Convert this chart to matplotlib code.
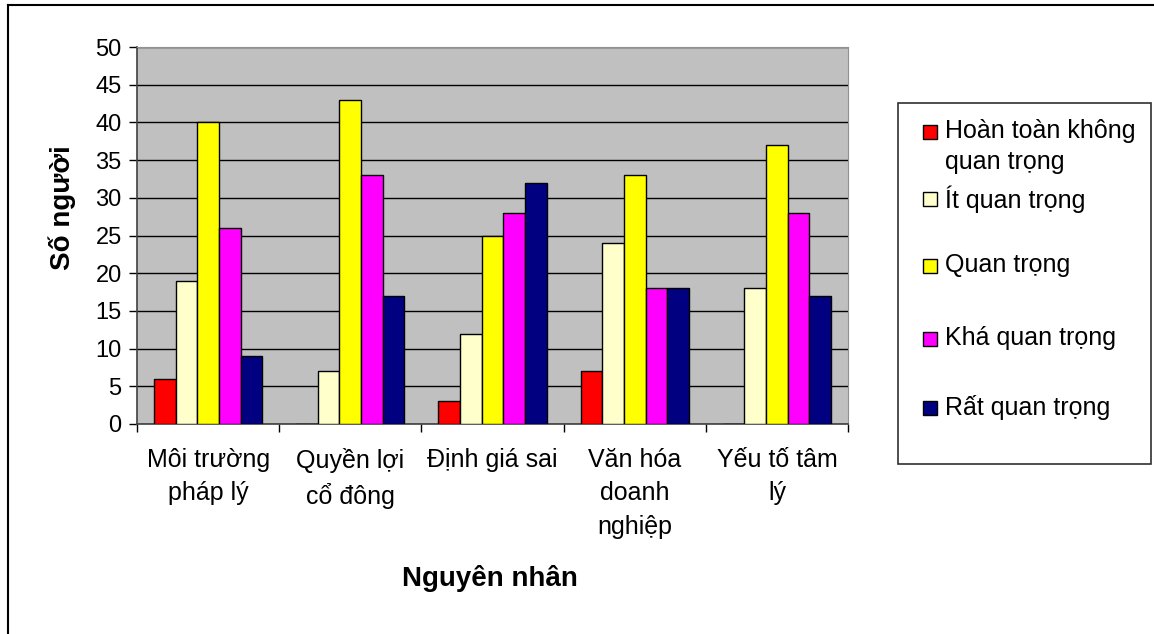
import matplotlib
matplotlib.use("Agg")
import matplotlib.pyplot as plt
from matplotlib.patches import Rectangle
from matplotlib.lines import Line2D
import numpy as np

plt.rcParams['font.family'] = ['Liberation Sans', 'DejaVu Sans']

categories = ["Môi trường\npháp lý", "Quyền lợi\ncổ đông", "Định giá sai",
              "Văn hóa\ndoanh\nnghiệp", "Yếu tố tâm\nlý"]
series_names = ["Hoàn toàn không\nquan trọng", "Ít quan trọng", "Quan trọng",
                "Khá quan trọng", "Rất quan trọng"]
hoan_toan_khong = [6, 0, 3, 7, 0]
it_quan_trong = [19, 7, 12, 24, 18]
quan_trong = [40, 43, 25, 33, 37]
kha_quan_trong = [26, 33, 28, 18, 28]
rat_quan_trong = [9, 17, 32, 18, 17]
series_values = [hoan_toan_khong, it_quan_trong, quan_trong, kha_quan_trong, rat_quan_trong]
colors = ["#FF0000", "#FFFFCC", "#FFFF00", "#FF00FF", "#000080"]
y_ticks = [0, 5, 10, 15, 20, 25, 30, 35, 40, 45, 50]

W, H = 1154, 634
fig = plt.figure(figsize=(W / 100, H / 100), dpi=100)
ax = fig.add_axes([137 / W, 1 - 424 / H, (848 - 137) / W, (424 - 47) / H])
ax.set_facecolor("#C0C0C0")

x = np.arange(len(categories))
bw = 0.152
n = len(series_values)
for i, (vals, col) in enumerate(zip(series_values, colors)):
    offs = (i - (n - 1) / 2) * bw
    ax.bar(x + offs, vals, width=bw, color=col, edgecolor="black", linewidth=1.0, zorder=3)

ax.set_xlim(-0.5, len(categories) - 0.5)
ax.set_ylim(0, 50)
ax.set_yticks(y_ticks)
ax.set_yticklabels([str(v) for v in y_ticks], fontsize=17)
ax.yaxis.grid(True, color="black", linewidth=1.0, zorder=1)
ax.set_axisbelow(True)
ax.tick_params(axis='y', direction='out', length=6, width=1, pad=5, colors="black")

ax.set_xticks(np.arange(-0.5, len(categories), 1.0))
ax.set_xticklabels([])
ax.tick_params(axis='x', which='major', direction='out', length=6, width=1)
ax.set_xticks(x, minor=True)
ax.set_xticklabels(categories, minor=True, fontsize=18, linespacing=1.5)
ax.tick_params(axis='x', which='minor', length=0, pad=17)

for s in ['top', 'right']:
    ax.spines[s].set_color("#909090")
    ax.spines[s].set_linewidth(0.8)
for s in ['left', 'bottom']:
    ax.spines[s].set_color("#404040")
    ax.spines[s].set_linewidth(1.2)

ax.set_ylabel("Số người", fontsize=20, fontweight='bold', va='center')
ax.yaxis.set_label_coords((62 - 137) / 711, (424 - 208) / 377)
ax.set_xlabel("Nguyên nhân", fontsize=20, fontweight='bold', va='center')
ax.xaxis.set_label_coords((490 - 137) / 711, (424 - 578) / 377)

# outer chart border (top and left visible)
fig.add_artist(Line2D([8 / W, 8 / W], [0, 1 - 5 / H], transform=fig.transFigure,
                      color="black", linewidth=1.5))
fig.add_artist(Line2D([8 / W, 1], [1 - 5 / H, 1 - 5 / H], transform=fig.transFigure,
                      color="black", linewidth=1.5))

# legend box
fig.add_artist(Rectangle((898 / W, 1 - 464 / H), (1151 - 898) / W, (464 - 103) / H,
                         transform=fig.transFigure, facecolor="white",
                         edgecolor="#303030", linewidth=1.2))
entry_y = [132, 199, 266, 339, 408]
for name, col, yy in zip(series_names, colors, entry_y):
    fig.add_artist(Rectangle((923 / W, 1 - (yy + 7) / H), 14 / W, 14 / H,
                             transform=fig.transFigure, facecolor=col,
                             edgecolor="black", linewidth=1.0))
    fig.text(945 / W, 1 - (yy - 13) / H, name, fontsize=18, va='top', ha='left',
             linespacing=1.35)

fig.savefig("out.png", dpi=100)
